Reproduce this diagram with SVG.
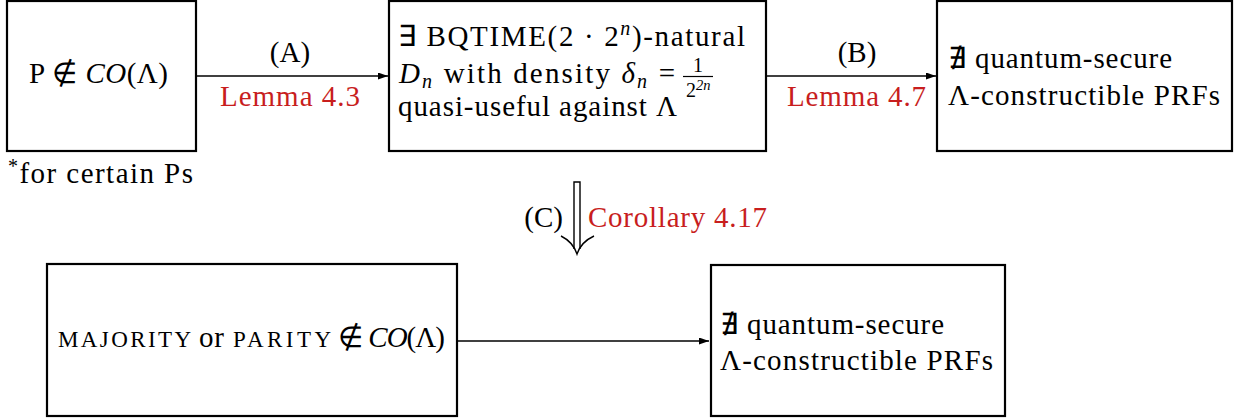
<svg xmlns="http://www.w3.org/2000/svg" width="1236" height="419" viewBox="0 0 1236 419" font-family="Liberation Serif, serif">
<style>
text{font-family:'Liberation Serif',serif;font-size:29px;fill:#000}
.red{fill:#c81e1e}
.it{font-style:italic}
.sc{font-size:23px}
.sm{font-size:20px}
.xs{font-size:14.5px}
.box{fill:#fff;stroke:#000;stroke-width:2.2}
.conn{stroke:#000;stroke-width:1.4;fill:none}
</style>
<defs>
<marker id="ah" markerUnits="userSpaceOnUse" markerWidth="11" markerHeight="8" refX="10" refY="3.5" orient="auto">
<path d="M0,0 L10,3.5 L0,7 z" fill="#000"/>
</marker>
</defs>
<g id="n1">
<rect class="box" x="7" y="1" width="189" height="150"/>
<text x="29" y="83" textLength="139">P ∉ <tspan class="it">CO</tspan>(Λ)</text>
<text x="8" y="183" textLength="185"><tspan class="sm" dy="-10">*</tspan><tspan dy="10">for certain Ps</tspan></text>
</g>
<g id="n2">
<rect class="box" x="389" y="1" width="377" height="150"/>
<text x="398" y="46" textLength="347">∃ BQTIME(2 · 2<tspan class="sm it" dy="-11">n</tspan><tspan dy="11">)-natural</tspan></text>
<text x="399" y="83" textLength="276"><tspan class="it">D</tspan><tspan class="sm it" dy="5">n</tspan><tspan dy="-5"> with density </tspan><tspan class="it">δ</tspan><tspan class="sm it" dy="5">n</tspan><tspan dy="-5"> =</tspan></text>
<text class="sm" x="698" y="72" text-anchor="middle">1</text>
<line x1="683" y1="76.5" x2="713" y2="76.5" stroke="#000" stroke-width="1.2"/>
<text class="sm" x="686" y="97">2</text>
<text class="xs it" x="696" y="90">2n</text>
<text x="398" y="116" textLength="279">quasi-useful against Λ</text>
</g>
<g id="n3">
<rect class="box" x="937" y="1" width="295" height="150"/>
<text x="948" y="68" textLength="224">∄ quantum-secure</text>
<text x="948" y="105" textLength="272">Λ-constructible PRFs</text>
</g>
<g id="n4">
<rect class="box" x="47" y="264" width="410" height="152"/>
<text class="sc" x="58" y="347" textLength="133">MAJORITY</text>
<text x="199" y="347" textLength="25">or</text>
<text class="sc" x="233" y="347" textLength="98">PARITY</text>
<text x="338" y="347" textLength="107">∉ <tspan class="it">CO</tspan>(Λ)</text>
</g>
<g id="n5">
<rect class="box" x="711" y="265" width="294" height="151"/>
<text x="720" y="334" textLength="224">∄ quantum-secure</text>
<text x="720" y="370" textLength="273">Λ-constructible PRFs</text>
</g>
<g id="connectors">
<line class="conn" x1="197" y1="76" x2="388" y2="76" marker-end="url(#ah)"/>
<text x="290" y="62" text-anchor="middle">(A)</text>
<text class="red" x="220" y="106" textLength="140">Lemma 4.3</text>
<line class="conn" x1="767" y1="76" x2="936" y2="76" marker-end="url(#ah)"/>
<text x="857" y="62" text-anchor="middle">(B)</text>
<text class="red" x="787" y="106" textLength="139">Lemma 4.7</text>
<path class="conn" d="M574,249 L574,182 L580,182 L580,249"/>
<path class="conn" d="M561,236 Q573,242 577,254 Q581,242 594,236"/>
<text x="563" y="227" text-anchor="end">(C)</text>
<text class="red" x="588" y="227" textLength="179">Corollary 4.17</text>
<line class="conn" x1="458" y1="341" x2="709" y2="341" marker-end="url(#ah)"/>
</g>
</svg>
